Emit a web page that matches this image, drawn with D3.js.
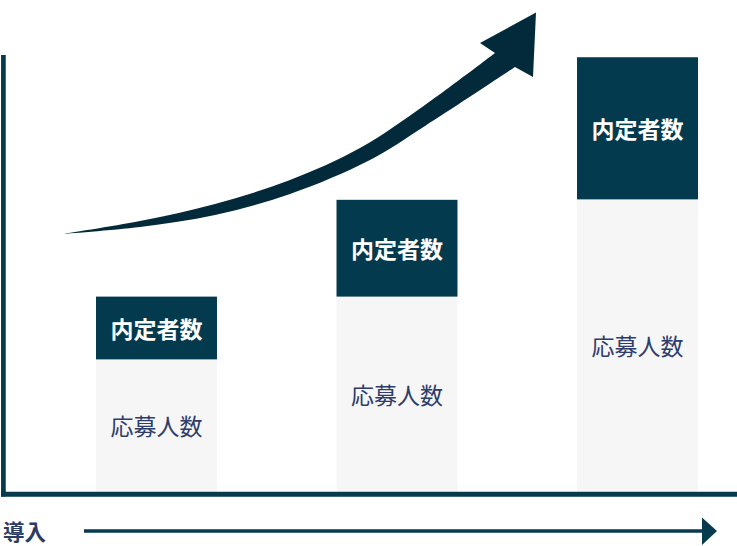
<!DOCTYPE html>
<html>
<head>
<meta charset="utf-8">
<script src="https://cdn.jsdelivr.net/npm/d3@7"></script>
<style>
  html, body { margin: 0; padding: 0; background: #ffffff; }
  svg { display: block; }
  text { font-family: "Noto Sans CJK JP", "Noto Sans", sans-serif; }
</style>
</head>
<body>
<script>
// ---- data ----
const categories = ["段階1", "段階2", "段階3"];
const applicants = [30.3, 44.7, 67.0];   // 応募人数 (lower, light segment)
const offers = [14.4, 22.2, 32.6];       // 内定者数 (upper, dark segment)
const applicantLabel = "応募人数";
const offerLabel = "内定者数";
const xAxisLabel = "導入";

// ---- decoration: growth arrow outline (in chart pixel space) ----
const arrowUpper = [[62,234],[140,221],[215,204],[290,180],[360,148],[425,105],[495,53]];
const arrowLower = [[62,234],[140,227],[215,215],[290,194],[370,160],[425,126],[515,67]];
const arrowHead = [[495,53],[480,43],[536,12.5],[533,77],[515,67]];

const W = 737, H = 546;
const baseY = 491.5;

const svg = d3.select("body").append("svg")
  .attr("width", W).attr("height", H);

const x = d3.scaleBand().domain(categories).range([96, 698]).paddingInner(0.497).paddingOuter(0);
const y = d3.scaleLinear().domain([0, 100]).range([baseY, baseY - 436]);

const rows = categories.map((c, i) => ({ c, a: applicants[i], o: offers[i] }));

// applicants (light)
svg.append("g").selectAll("rect").data(rows).join("rect")
  .attr("x", d => x(d.c))
  .attr("width", x.bandwidth())
  .attr("y", d => y(d.a))
  .attr("height", d => y(0) - y(d.a))
  .attr("fill", "#f6f6f6");

// offers (dark)
svg.append("g").selectAll("rect").data(rows).join("rect")
  .attr("x", d => x(d.c))
  .attr("width", x.bandwidth())
  .attr("y", d => y(d.a + d.o))
  .attr("height", d => y(d.a) - y(d.a + d.o))
  .attr("fill", "#033a4e");

// labels
svg.append("g").selectAll("text").data(rows).join("text")
  .attr("x", d => x(d.c) + x.bandwidth() / 2)
  .attr("y", d => (y(d.a) + y(d.a + d.o)) / 2)
  .attr("text-anchor", "middle")
  .attr("dominant-baseline", "central")
  .attr("font-size", 23)
  .attr("font-weight", 700)
  .attr("fill", "#ffffff")
  .text(offerLabel);

svg.append("g").selectAll("text").data(rows).join("text")
  .attr("x", d => x(d.c) + x.bandwidth() / 2)
  .attr("y", d => (y(0) + y(d.a)) / 2)
  .attr("text-anchor", "middle")
  .attr("dominant-baseline", "central")
  .attr("font-size", 23)
  .attr("font-weight", 400)
  .attr("fill", "#2e3c6b")
  .text(applicantLabel);

// axes lines
svg.append("line")
  .attr("x1", 3.4).attr("x2", 3.4)
  .attr("y1", 55).attr("y2", 496.5)
  .attr("stroke", "#073a4d").attr("stroke-width", 4.7);
svg.append("line")
  .attr("x1", 1).attr("x2", W)
  .attr("y1", 494.2).attr("y2", 494.2)
  .attr("stroke", "#073a4d").attr("stroke-width", 5);

// growth arrow
const curve = d3.line().curve(d3.curveCatmullRom.alpha(0.5));
const upperPath = curve(arrowUpper);
const lowerPath = curve(arrowLower.slice().reverse()).replace(/^M/, "L");
const headPath = arrowHead.map(p => "L" + p[0] + "," + p[1]).join("");
svg.append("path")
  .attr("d", upperPath + headPath + lowerPath + "Z")
  .attr("fill", "#032a3a");

// bottom arrow + label
svg.append("line")
  .attr("x1", 84).attr("x2", 704)
  .attr("y1", 531).attr("y2", 531)
  .attr("stroke", "#073a4d").attr("stroke-width", 3.5);
svg.append("path")
  .attr("d", d3.line()([[702, 517.5], [717, 531], [702, 545]]) + "Z")
  .attr("fill", "#073a4d");

svg.append("text")
  .attr("x", 3)
  .attr("y", 539.5)
  .attr("font-size", 21.5)
  .attr("font-weight", 700)
  .attr("fill", "#2b3b63")
  .text(xAxisLabel);
</script>
</body>
</html>
